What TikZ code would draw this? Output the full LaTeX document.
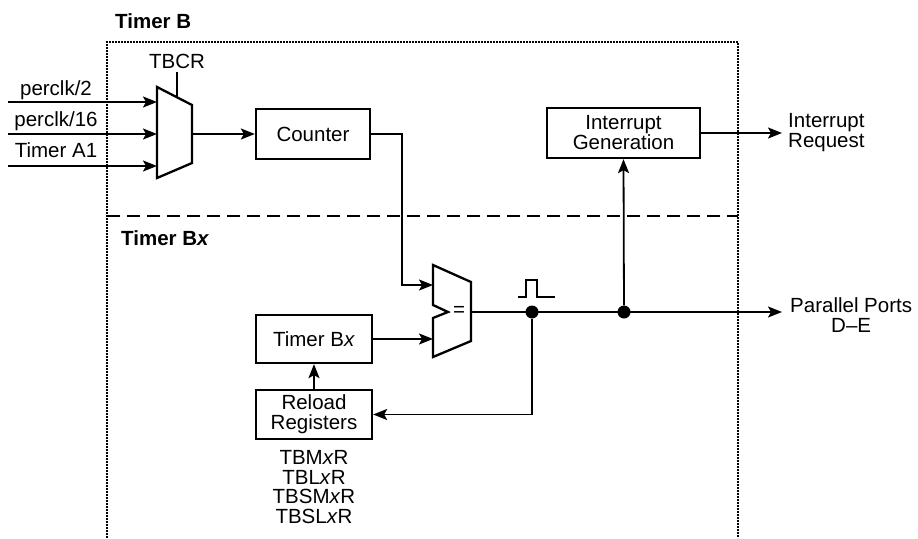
\documentclass[tikz,border=0pt]{standalone}
\usepackage{fontspec}
\setmainfont{Liberation Sans}
\usetikzlibrary{arrows.meta}

\begin{document}
\begin{tikzpicture}[x=1pt,y=-1pt,
  every node/.style={font=\fontsize{20.5}{20}\selectfont},
  box/.style={draw,line width=2.3pt,inner sep=0pt,align=center},
  wire/.style={line width=1.8pt},
  conn/.style={line width=1.8pt,-{Stealth[length=14pt 0,width=11pt 0,inset=3pt]}},
  junction/.style={circle,fill,inner sep=0pt,minimum size=13pt}]
\useasboundingbox (0,0) rectangle (918,538);
% frame of timer B, split by the dashed line
\draw[line width=2.4pt,dash pattern=on 2pt off 1pt] (107,538) -- (107,42) -- (738,42) -- (738,538);
\draw[line width=2.3pt,dash pattern=on 13pt off 7pt] (107,216) -- (738,216);
\node[anchor=base west,inner sep=0pt,font=\bfseries\fontsize{20.5}{20}\selectfont] (tbtitle) at (115,28) {Timer B};
\node[anchor=base west,inner sep=0pt,font=\bfseries\fontsize{20.5}{20}\selectfont] (tbxtitle) at (121,245) {Timer B\textit{x}};
% clock select mux
\coordinate (MA) at (157,87);
\coordinate (MB) at (192,105);
\coordinate (MC) at (192,163);
\coordinate (MD) at (157,178);
\draw[line width=2.3pt,line join=miter] (MA) -- (MB) -- (MC) -- (MD) -- cycle;
\coordinate (in1) at (157,102);
\coordinate (in2) at (157,134);
\coordinate (in3) at (157,166);
\coordinate (src1) at (8,102);
\coordinate (src2) at (8,134);
\coordinate (src3) at (8,166);
\draw[conn] (src1) -- (in1);
\draw[conn] (src2) -- (in2);
\draw[conn] (src3) -- (in3);
\node[anchor=base] (clk2) at (56,95) {perclk/2};
\node[anchor=base] (clk16) at (56,126) {perclk/16};
\node[anchor=base] (tma1) at (56,157) {Timer A1};
\node[anchor=base] (tbcr) at (177,68) {TBCR};
\coordinate (msel) at (177,97);
\draw[wire] (tbcr.south) -- (msel);
\coordinate (mout) at (192,134);
% counter and compare
\node[box,minimum width=114pt,minimum height=50pt] (cnt) at (313,134) {Counter};
\draw[conn] (mout) -- (cnt.west);
\draw[line width=2.3pt,line join=miter] (433,265) -- (471,282) -- (471,341) -- (433,357) -- (433,318) -- (448,312) -- (433,305) -- cycle;
\node (eq) at (459,311) {=};
\coordinate (cmpa) at (433,285);
\coordinate (cmpb) at (433,339);
\coordinate (cmpo) at (471,312);
\draw[conn] (cnt.east) -- ++(31,0) |- (cmpa);
\node[box,minimum width=116pt,minimum height=48pt] (tbx) at (314,339) {Timer B\textit{x}};
\draw[conn] (tbx.east) -- (cmpb);
\node[box,minimum width=116pt,minimum height=49pt] (reload) at (314,414.5) {Reload\\Registers};
\draw[conn] (reload.north) -- (tbx.south);
\node[anchor=north,align=center,inner sep=0pt,font=\fontsize{20.5}{19.7}\selectfont] (regs) at (314,450) {TBM\textit{x}R\\TBL\textit{x}R\\TBSM\textit{x}R\\TBSL\textit{x}R};
% output and interrupt
\coordinate (pp) at (782,312);
\draw[conn] (cmpo) -- (pp);
\node[anchor=west,align=center,inner sep=0pt] (pplbl) at (790,315.5) {Parallel Ports\\D–E};
\node[junction] (j1) at (532,312) {};
\node[junction] (j2) at (624,312) {};
\draw[wire,line width=1.6pt] (518,297) -- ++(8,0) -- ++(0,-17) -- ++(11,0) -- ++(0,17) -- ++(18,0);
\draw[conn] (j1) |- (reload.east);
\node[box,minimum width=153pt,minimum height=50pt] (igen) at (623.5,133) {Interrupt\\Generation};
\draw[conn] (j2) -- (igen.south);
\coordinate (ireq) at (782,133);
\draw[conn] (igen.east) -- (ireq);
\node[anchor=west,align=left,inner sep=0pt] (irlbl) at (788,133) {Interrupt\\Request};
\end{tikzpicture}
\end{document}
